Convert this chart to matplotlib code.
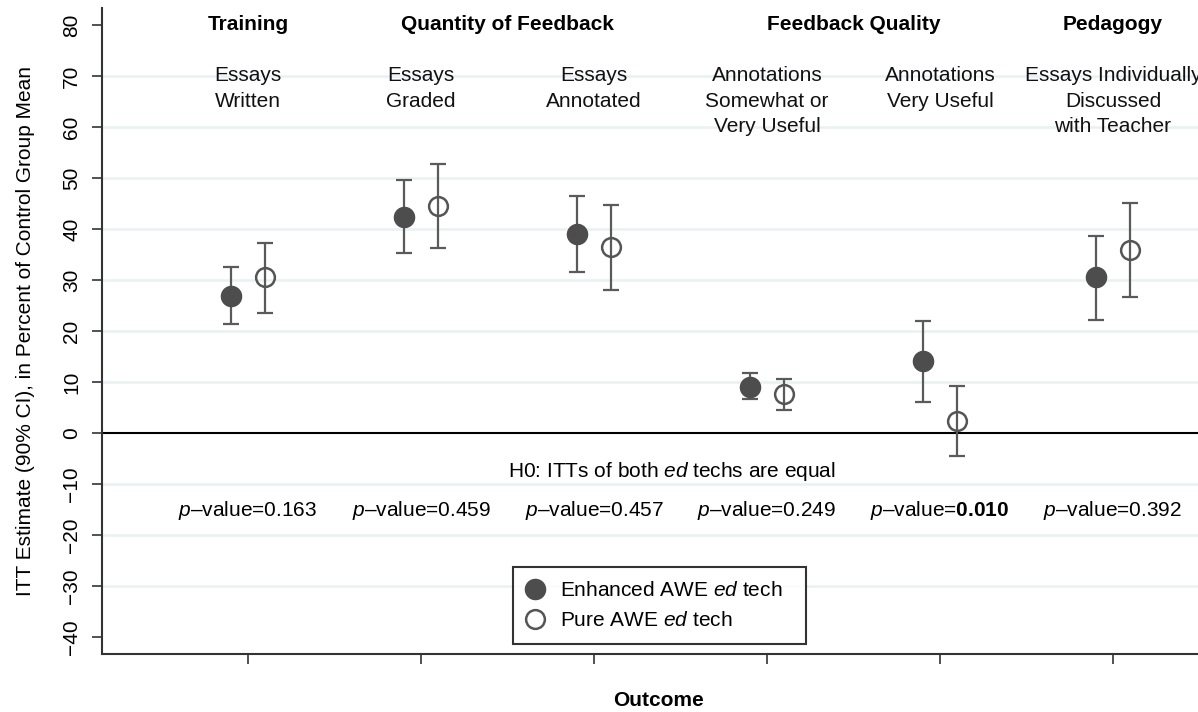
import matplotlib
matplotlib.use("Agg")
import matplotlib.pyplot as plt
from matplotlib.lines import Line2D
import numpy as np

plt.rcParams['font.family'] = ['Liberation Sans', 'DejaVu Sans']
plt.rcParams['mathtext.fontset'] = 'custom'
plt.rcParams['mathtext.rm'] = 'Liberation Sans'
plt.rcParams['mathtext.it'] = 'Liberation Sans:italic'
plt.rcParams['mathtext.bf'] = 'Liberation Sans:bold'

# ---- data ----
groups = ["Training", "Quantity of Feedback", "Feedback Quality", "Pedagogy"]
group_pos = [1, 2.5, 4.5, 6]
outcomes = ["Essays\nWritten", "Essays\nGraded", "Essays\nAnnotated",
            "Annotations\nSomewhat or\nVery Useful", "Annotations\nVery Useful",
            "Essays Individually\nDiscussed\nwith Teacher"]
enh_est = [26.9, 42.4, 39.1, 9.1, 14.1, 30.5]
enh_lo = [21.3, 35.2, 31.6, 6.6, 6.1, 22.2]
enh_hi = [32.5, 49.7, 46.5, 11.7, 22.0, 38.7]
pure_est = [30.5, 44.6, 36.4, 7.6, 2.4, 35.8]
pure_lo = [23.6, 36.3, 28.0, 4.6, -4.6, 26.7]
pure_hi = [37.3, 52.7, 44.8, 10.5, 9.3, 45.1]
pvalues = ["0.163", "0.459", "0.457", "0.249", "0.010", "0.392"]
p_bold = [False, False, False, False, True, False]
yticks = [-40, -30, -20, -10, 0, 10, 20, 30, 40, 50, 60, 70, 80]

W, H = 1198, 712
fig = plt.figure(figsize=(W / 100, H / 100), dpi=100)
ax = fig.add_axes([102 / W, (H - 654) / H, (1216 - 102) / W, (654 - 8) / H])

x = np.arange(1, len(outcomes) + 1)
off = 0.1
ax.set_xlim(0.156, 6.596)
ax.set_ylim(-43.33, 83.33)

# grid
for yv in yticks:
    if yv in (0, -40, 80):
        continue
    ax.axhline(yv, color='#e9f1f3', lw=1.8, zorder=0)
ax.axhline(0, color='black', lw=1.5, zorder=1)

ecol = '#5a5a5a'
enh_err = np.array([np.array(enh_est) - np.array(enh_lo), np.array(enh_hi) - np.array(enh_est)])
pure_err = np.array([np.array(pure_est) - np.array(pure_lo), np.array(pure_hi) - np.array(pure_est)])
ax.errorbar(x - off, enh_est, yerr=enh_err, fmt='none', ecolor=ecol, elinewidth=1.6,
            capsize=6, capthick=1.6, zorder=2)
ax.errorbar(x + off, pure_est, yerr=pure_err, fmt='none', ecolor=ecol, elinewidth=1.6,
            capsize=6, capthick=1.6, zorder=2)
ax.plot(x - off, enh_est, 'o', ms=14.5, mfc='#4d4d4d', mec='#4d4d4d', ls='none', zorder=3)
ax.plot(x + off, pure_est, 'o', ms=13.5, mfc='none', mec='#555555', mew=1.8, ls='none', zorder=3)

fs = 15
# group headers
for g, gp in zip(groups, group_pos):
    ax.text(gp, 80, g, ha='center', va='center', fontsize=fs, fontweight='bold')
# outcome labels
for xi, lab in zip(x, outcomes):
    for j, line in enumerate(lab.split("\n")):
        ax.text(xi, 70 - 5 * j, line, ha='center', va='center', fontsize=fs, color='#111111')

ax.text(3.45, -7.6, r"H0: ITTs of both $\mathit{ed}$ techs are equal", ha='center', va='center',
        fontsize=fs)
for xi, pv, b in zip(x, pvalues, p_bold):
    val = r"$\mathbf{%s}$" % pv if b else pv
    ax.text(xi, -15.1, r"$\mathit{p}$–value=" + val, ha='center', va='center', fontsize=fs)

# axes styling
for s in ['top', 'right']:
    ax.spines[s].set_visible(False)
for s in ['left', 'bottom']:
    ax.spines[s].set_color('#333333')
    ax.spines[s].set_linewidth(1.5)
ax.set_yticks(yticks)
ax.set_yticklabels([str(t).replace('-', '−') for t in yticks], rotation=90, va='center',
                   fontsize=fs)
ax.tick_params(axis='y', length=7, width=1.2, color='#333333', pad=8)
ax.set_xticks(x)
ax.set_xticklabels([])
ax.tick_params(axis='x', length=7.5, width=1.2, color='#333333')

fig.text(26 / W, 1 - 331 / H, "ITT Estimate (90% CI), in Percent of Control Group Mean",
         rotation=90, ha='center', va='center', fontsize=fs)
fig.text(659 / W, 1 - 700 / H, "Outcome", ha='center', va='center', fontsize=fs,
         fontweight='bold')

handles = [Line2D([], [], marker='o', ls='none', ms=14.5, mfc='#4d4d4d', mec='#4d4d4d'),
           Line2D([], [], marker='o', ls='none', ms=13.5, mfc='none', mec='#555555', mew=1.8)]
labels = [r"Enhanced AWE $\mathit{ed}$ tech", r"Pure AWE $\mathit{ed}$ tech"]
leg = fig.legend(handles, labels, loc='lower left',
                 bbox_to_anchor=(513 / W, (H - 644) / H, (806 - 513) / W, 0.1),
                 mode='expand',
                 bbox_transform=fig.transFigure, borderaxespad=0, fontsize=fs, frameon=True,
                 fancybox=False, edgecolor='black', handletextpad=0.8, labelspacing=0.55,
                 handlelength=0.8, borderpad=0.65)
leg.get_frame().set_linewidth(1.5)

fig.savefig("out.png", dpi=100)
